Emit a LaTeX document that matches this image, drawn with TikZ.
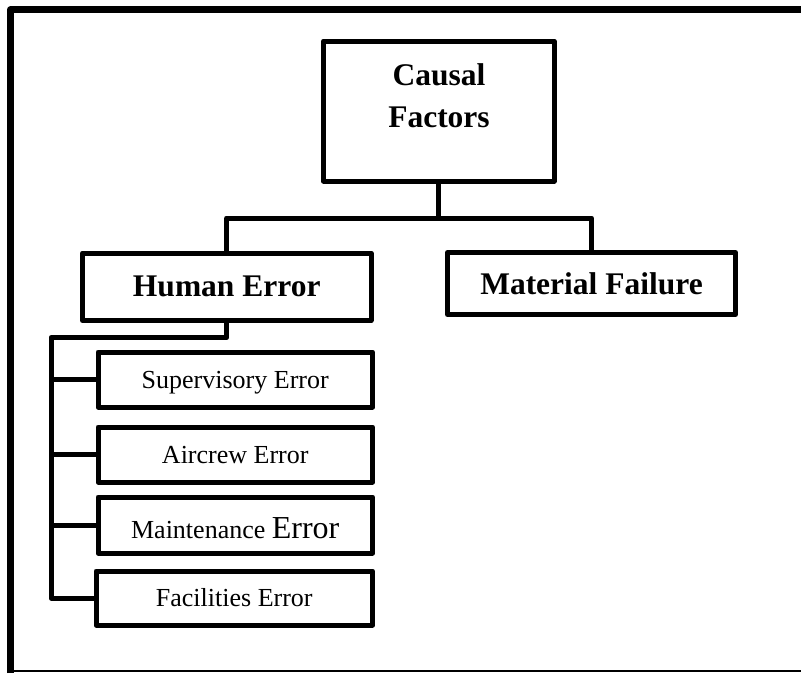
\documentclass[tikz,border=0pt]{standalone}
\usepackage{fontspec}
\setmainfont{Liberation Serif}
\begin{document}
\begin{tikzpicture}[x=1pt, y=-1pt, line join=round,
  box/.style={draw, line width=5pt, rectangle, inner sep=0pt},
  link/.style={line width=5pt},
  headtext/.style={font=\fontsize{31.5}{42}\selectfont\bfseries},
  subtext/.style={font=\fontsize{26}{30}\selectfont, text height=17pt, text depth=0pt}]

\useasboundingbox (0,0) rectangle (801,673);
\fill[white] (0,0) rectangle (801,673);

% page frame: heavy rule on top and left, hairline at the bottom
\draw[line width=6.5pt] (10.5,673) |- (801,9.5);
\draw[line width=1.8pt] (14,671) -- (801,671);

% top level
\node[box, minimum width=230.5pt, minimum height=140pt] (causal) at (438.75,111) {};
\node[headtext, align=center, inner sep=0pt] (causaltxt) at (439,95.5) {Causal\\Factors};

% second level
\node[box, headtext, minimum width=288.5pt, minimum height=67.5pt] (human) at (226.75,286.75) {Human Error};
\node[box, headtext, minimum width=288pt, minimum height=62pt] (material) at (591.5,283.5) {Material Failure};

% human error breakdown
\node[box, subtext, minimum width=274.5pt, minimum height=55pt] (sup) at (235.25,379.5) {Supervisory Error};
\node[box, subtext, minimum width=274.5pt, minimum height=55pt] (air) at (235.25,454.5) {Aircrew Error};
\node[box, subtext, text height=26pt, minimum width=274.5pt, minimum height=56pt] (maint) at (235.25,525) {Maintenance {\fontsize{32}{32}\selectfont Error}};
\node[box, subtext, minimum width=276.5pt, minimum height=54pt] (fac) at (234.25,598) {Facilities Error};

% connectors
\coordinate (bus) at (0,218);
\coordinate (trunk) at (51,337.5);
\draw[link] (causal.south) -- (causal.south |- bus);
\draw[link] (human.north) |- (material.north |- bus) -- (material.north);
\draw[link] (human.south) |- (trunk) |- (fac.west);
\draw[link] (trunk |- sup.west) -- (sup.west);
\draw[link] (trunk |- air.west) -- (air.west);
\draw[link] (trunk |- maint.west) -- (maint.west);
\end{tikzpicture}
\end{document}
